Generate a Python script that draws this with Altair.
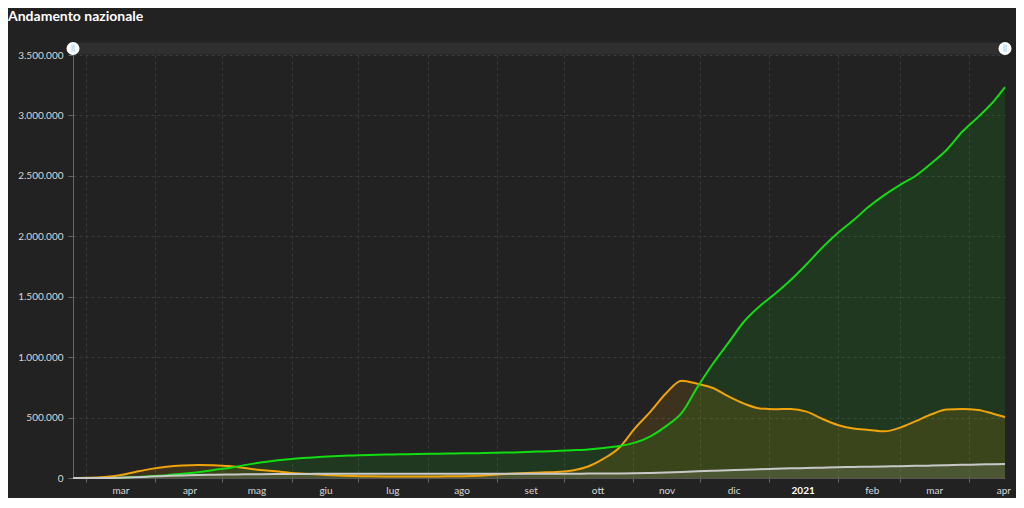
import altair as alt
import pandas as pd

# ---- data (weekly samples) ----
dates = [
    "2020-02-24", "2020-03-02", "2020-03-09", "2020-03-16", "2020-03-23", "2020-03-30",
    "2020-04-06", "2020-04-13", "2020-04-20", "2020-04-27", "2020-05-04", "2020-05-11",
    "2020-05-18", "2020-05-25", "2020-06-01", "2020-06-08", "2020-06-15", "2020-06-22",
    "2020-06-29", "2020-07-06", "2020-07-13", "2020-07-20", "2020-07-27", "2020-08-03",
    "2020-08-10", "2020-08-17", "2020-08-24", "2020-08-31", "2020-09-07", "2020-09-14",
    "2020-09-21", "2020-09-28", "2020-10-05", "2020-10-12", "2020-10-19", "2020-10-26",
    "2020-11-02", "2020-11-09", "2020-11-16", "2020-11-23", "2020-11-30", "2020-12-07",
    "2020-12-14", "2020-12-21", "2020-12-28", "2021-01-04", "2021-01-11", "2021-01-18",
    "2021-01-25", "2021-02-01", "2021-02-08", "2021-02-15", "2021-02-22", "2021-03-01",
    "2021-03-08", "2021-03-15", "2021-03-22", "2021-03-29", "2021-04-05", "2021-04-12",
    "2021-04-17",
]

positivi = [
    221, 1835, 7985, 23073, 50418, 75528,
    93187, 103616, 108237, 105813, 98467, 82488,
    66553, 55300, 42075, 35262, 26757, 20972,
    16496, 14621, 13179, 12404, 12456, 12649,
    13595, 15360, 19195, 26754, 34857, 40532,
    45489, 50630, 62576, 95000, 160000, 250000,
    411000, 549000, 701000, 805000, 780000, 745000,
    675000, 615000, 576000, 569000, 571000, 549000,
    490000, 439000, 410000, 398000, 386000, 417000,
    470000, 527000, 566000, 571000, 563000, 530000,
    505000,
]

guariti = [
    1, 149, 724, 2749, 7432, 14620,
    23000, 35435, 47055, 66624, 82879, 106587,
    127326, 144658, 157507, 166584, 174865, 181907,
    186725, 191083, 193978, 196016, 198756, 200589,
    202248, 203968, 205470, 207944, 210801, 214645,
    219670, 224417, 229970, 236363, 247872, 264117,
    292380, 344797, 429000, 539000, 750000, 945000,
    1120000, 1295000, 1422000, 1526000, 1640000, 1769000,
    1906000, 2027000, 2132000, 2246000, 2343000, 2426000,
    2501000, 2604000, 2718000, 2869000, 2988000, 3119000,
    3234000,
]

deceduti = [
    7, 52, 463, 2158, 6077, 11591,
    16523, 20465, 24114, 26977, 29079, 30560,
    32007, 32877, 33475, 33964, 34371, 34657,
    34744, 34869, 34967, 35045, 35112, 35171,
    35209, 35400, 35441, 35491, 35553, 35633,
    35724, 35851, 36002, 36246, 36616, 37479,
    39412, 42330, 46464, 50453, 55024, 60078,
    64520, 69214, 72370, 76329, 79819, 82554,
    85461, 88845, 91273, 93577, 95718, 97945,
    100479, 102499, 105879, 108879, 111747, 114612,
    116676,
]

month_names = ["gen", "feb", "mar", "apr", "mag", "giu",
               "lug", "ago", "set", "ott", "nov", "dic"]
y_ticks = [0, 500000, 1000000, 1500000, 2000000, 2500000, 3000000, 3500000]
title_text = "Andamento nazionale"

# ---- colours ----
BG = "#222222"
GREEN = "#12dc12"
ORANGE = "#f0a30a"
GREY = "#c8c8c8"
GRID = "#3a3a3a"


def ms(d):
    return int(pd.Timestamp(d, tz="UTC").value // 10**6)


df = pd.DataFrame({"data": dates, "positivi": positivi,
                   "guariti": guariti, "deceduti": deceduti})

x_start, x_end = ms(dates[0]), ms(dates[-1])
month_ticks = [ms(d) for d in pd.date_range("2020-03-01", "2021-04-01", freq="MS")]

names_js = "[" + ",".join("'%s'" % m for m in month_names) + "]"
x_label_expr = ("utcmonth(datum.value)==0 ? ('' + utcyear(datum.value)) : "
                + names_js + "[utcmonth(datum.value)]")

x_axis = alt.Axis(
    values=month_ticks, labelExpr=x_label_expr, labelOffset=34, labelAlign="center",
    labelOverlap=False, labelBound=False, labelFlush=False,
    grid=True, gridDash=[3, 3], gridColor=GRID, gridWidth=1,
    ticks=True, tickColor="#666666", tickSize=4,
    domain=True, domainColor="#555555",
    labelFont="Lato", labelFontSize=10, labelPadding=3,
    labelColor={"condition": {"test": "utcmonth(datum.value)==0", "value": "#ffffff"},
                "value": "#d8d8d8"},
    labelFontWeight={"condition": {"test": "utcmonth(datum.value)==0", "value": "bold"},
                     "value": "normal"},
    title=None,
)

y_axis = alt.Axis(
    values=y_ticks, labelExpr="join(split(format(datum.value, ','), ','), '.')",
    grid=True, gridDash=[3, 3], gridColor=GRID, gridWidth=1,
    ticks=True, tickColor="#666666", tickSize=5,
    domain=True, domainColor="#666666",
    labelFont="Lato", labelFontSize=10, labelColor="#d8d8d8", labelPadding=5,
    title=None,
)

x_scale = alt.Scale(type="utc", domain=[x_start, x_end])
y_scale = alt.Scale(domain=[0, 3500000], nice=False)


def xenc():
    return alt.X("data:T", scale=x_scale, axis=x_axis, title=None)


def yenc(field):
    return alt.Y(field + ":Q", scale=y_scale, axis=y_axis, title=None)


base = alt.Chart(df)

area_g = base.mark_area(color=GREEN, opacity=0.12, interpolate="monotone").encode(x=xenc(), y=yenc("guariti"))
area_o = base.mark_area(color=ORANGE, opacity=0.13, interpolate="monotone").encode(x=xenc(), y=yenc("positivi"))
area_d = base.mark_area(color=GREY, opacity=0.13, interpolate="monotone").encode(x=xenc(), y=yenc("deceduti"))

line_o = base.mark_line(color=ORANGE, strokeWidth=2, interpolate="monotone").encode(x=xenc(), y=yenc("positivi"))
line_g = base.mark_line(color=GREEN, strokeWidth=2, interpolate="monotone").encode(x=xenc(), y=yenc("guariti"))
line_d = base.mark_line(color=GREY, strokeWidth=2, interpolate="monotone").encode(x=xenc(), y=yenc("deceduti"))

# scrollbar decoration above the plot
track_df = pd.DataFrame({"data": [dates[0]], "fine": [dates[-1]]})
track = alt.Chart(track_df).mark_rect(color="#2f2f2f").encode(
    x=xenc(), x2="fine:T", y=alt.value(-12.5), y2=alt.value(-0.5))

handle_df = pd.DataFrame({"data": [dates[0], dates[-1]]})
handles = alt.Chart(handle_df).mark_point(
    filled=True, color="#ffffff", opacity=1, size=170, shape="circle").encode(
    x=xenc(), y=alt.value(-6.5))
grips = alt.Chart(handle_df).mark_text(
    text="||", fontSize=8, color="#9a9a9a", font="Lato", baseline="middle").encode(
    x=xenc(), y=alt.value(-6.5))

title_df = pd.DataFrame({"t": [title_text]})
title = alt.Chart(title_df).mark_text(
    align="left", baseline="alphabetic", font="Lato", fontSize=14,
    fontWeight="bold", color="#ffffff").encode(
    text="t:N", x=alt.value(-65), y=alt.value(-34))

chart = alt.layer(
    track, area_g, area_o, area_d, line_o, line_g, line_d, handles, grips, title
).properties(
    width=932, height=423,
    autosize=alt.AutoSizeParams(type="none"),
    padding={"left": 65, "top": 47, "right": 11, "bottom": 20},
    background=BG,
).configure_view(stroke=None)

chart.save("out.html", embed_options={"renderer": "svg", "actions": False})
